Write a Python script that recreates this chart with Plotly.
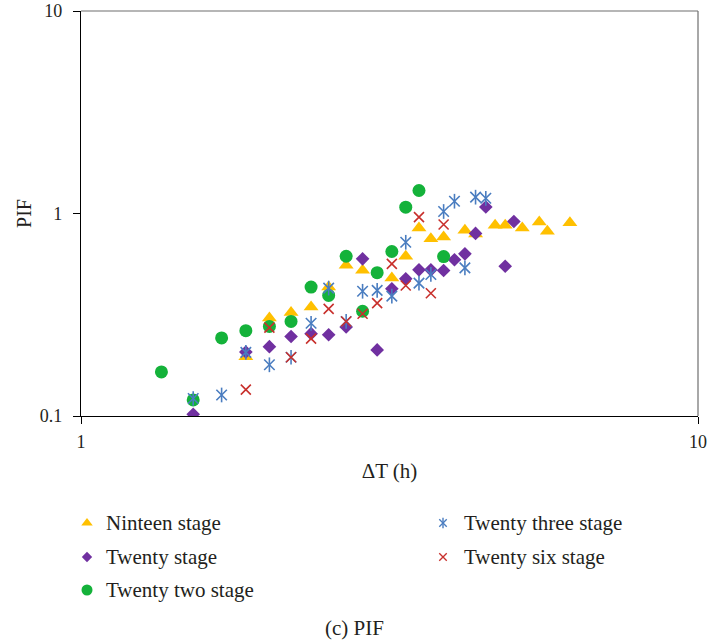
import plotly.graph_objects as go

# ---- data: ΔT (h) vs PIF for each stage ----
nineteen_dt = [1.85, 2.02, 2.19, 2.36, 2.52, 2.69, 2.86, 3.19, 3.36, 3.53,
               3.69, 3.87, 4.19, 4.36, 4.69, 4.87, 5.19, 5.53, 5.70, 6.20]
nineteen_pif = [0.196, 0.305, 0.324, 0.345, 0.434, 0.555, 0.524, 0.480, 0.615, 0.848,
                0.751, 0.765, 0.826, 0.792, 0.874, 0.874, 0.848, 0.908, 0.817, 0.901]

twenty_dt = [1.52, 1.85, 2.02, 2.19, 2.36, 2.52, 2.69, 2.86, 3.02, 3.19,
             3.36, 3.53, 3.69, 3.87, 4.03, 4.19, 4.36, 4.53, 4.87, 5.03]
twenty_pif = [0.102, 0.207, 0.220, 0.247, 0.255, 0.252, 0.275, 0.597, 0.212, 0.425,
              0.476, 0.527, 0.527, 0.523, 0.591, 0.632, 0.797, 1.077, 0.549, 0.913]

twenty_two_dt = [1.35, 1.52, 1.69, 1.85, 2.02, 2.19, 2.36, 2.52, 2.69, 2.86,
                 3.02, 3.19, 3.36, 3.53, 3.87]
twenty_two_pif = [0.165, 0.120, 0.243, 0.264, 0.277, 0.293, 0.433, 0.394, 0.615, 0.329,
                  0.510, 0.649, 1.074, 1.299, 0.613]

twenty_three_dt = [1.52, 1.69, 1.85, 2.02, 2.19, 2.36, 2.52, 2.69, 2.86, 3.02,
                   3.19, 3.36, 3.53, 3.69, 3.87, 4.03, 4.19, 4.36, 4.53]
twenty_three_pif = [0.122, 0.127, 0.206, 0.179, 0.195, 0.287, 0.428, 0.293, 0.413, 0.417,
                    0.391, 0.721, 0.453, 0.500, 1.023, 1.150, 0.539, 1.204, 1.189]

twenty_six_dt = [1.85, 2.02, 2.19, 2.36, 2.52, 2.69, 2.86, 3.02, 3.19, 3.36,
                 3.53, 3.69, 3.87]
twenty_six_pif = [0.135, 0.273, 0.195, 0.241, 0.338, 0.293, 0.320, 0.361, 0.564, 0.441,
                  0.959, 0.404, 0.882]

series_names = ["Ninteen stage", "Twenty stage", "Twenty two stage",
                "Twenty three stage", "Twenty six stage"]

x_ticks = [1, 10]
y_ticks = [0.1, 1, 10]

# ---- styling ----
FONT = "Liberation Serif"
TEXT = "#231F20"
YELLOW = "#FFC000"
PURPLE = "#7030A0"
GREEN = "#14B23A"
BLUE = "#4A7DC0"
RED = "#C8302C"

W, H = 708, 642
# plot box in page pixels
BOX_L, BOX_R, BOX_T, BOX_B = 81, 698, 11, 416

fig = go.Figure()

fig.add_trace(go.Scatter(
    x=nineteen_dt, y=nineteen_pif, mode="markers", name=series_names[0],
    marker=dict(symbol="triangle-up", size=13, color=YELLOW, line=dict(width=0))))
fig.add_trace(go.Scatter(
    x=twenty_dt, y=twenty_pif, mode="markers", name=series_names[1],
    marker=dict(symbol="diamond", size=10.5, color=PURPLE, line=dict(width=0))))
fig.add_trace(go.Scatter(
    x=twenty_two_dt, y=twenty_two_pif, mode="markers", name=series_names[2],
    marker=dict(symbol="circle", size=13, color=GREEN, line=dict(width=0))))
# six-spoke asterisk = thin X + vertical stroke
for sym in ("x-thin-open", "line-ns-open"):
    fig.add_trace(go.Scatter(
        x=twenty_three_dt, y=twenty_three_pif, mode="markers", name=series_names[3],
        marker=dict(symbol=sym, size=10.5, color=BLUE, line=dict(width=1.6, color=BLUE))))
fig.add_trace(go.Scatter(
    x=twenty_six_dt, y=twenty_six_pif, mode="markers", name=series_names[4],
    marker=dict(symbol="x-thin-open", size=10, color=RED, line=dict(width=1.6, color=RED))))

# ---- legend drawn on a full-page helper subplot measured in pixels ----
legend_marker_x = [87, 87, 87, 443, 443]
legend_row_y = [523, 557, 590, 523, 557]
legend_text_x = [104, 104, 104, 462, 462]
legend_styles = [
    [dict(symbol="triangle-up", size=10, color=YELLOW)],
    [dict(symbol="diamond", size=8, color=PURPLE)],
    [dict(symbol="circle", size=11, color=GREEN)],
    [dict(symbol="x-thin-open", size=7.5, color=BLUE, line=dict(width=1.4, color=BLUE)),
     dict(symbol="line-ns-open", size=7.5, color=BLUE, line=dict(width=1.4, color=BLUE))],
    [dict(symbol="x-thin-open", size=7.5, color=RED, line=dict(width=1.4, color=RED))],
]
for mx, my, styles in zip(legend_marker_x, legend_row_y, legend_styles):
    for st in styles:
        fig.add_trace(go.Scatter(
            x=[mx], y=[my], mode="markers", marker=st, xaxis="x2", yaxis="y2",
            hoverinfo="skip"))

label_font = dict(family=FONT, size=21, color=TEXT)
annotations = []
for tx, ty, name in zip(legend_text_x, legend_row_y, series_names):
    annotations.append(dict(
        x=tx / W, y=1 - ty / H, xref="paper", yref="paper", text=name, showarrow=False,
        xanchor="left", yanchor="middle", font=label_font))
annotations.append(dict(
    x=0.5, y=1 - 628 / H, xref="paper", yref="paper", text="(c) PIF", showarrow=False,
    xanchor="center", yanchor="middle", font=label_font))

fig.update_layout(
    width=W, height=H,
    margin=dict(l=0, r=0, t=0, b=0, pad=0),
    paper_bgcolor="white", plot_bgcolor="rgba(0,0,0,0)",
    font=dict(family=FONT, color=TEXT),
    showlegend=False,
    xaxis=dict(
        domain=[BOX_L / W, BOX_R / W], anchor="y",
        type="log", range=[0, 1], tickvals=x_ticks, ticktext=[str(v) for v in x_ticks],
        ticks="outside", ticklen=7, tickwidth=1.3, tickcolor="#000",
        showline=True, linecolor="#000", linewidth=1.3, showgrid=False, zeroline=False,
        tickfont=dict(family=FONT, size=18, color=TEXT), ticklabelstandoff=2,
        automargin=False,
        title=dict(text="ΔT (h)", font=dict(family=FONT, size=21, color=TEXT), standoff=12),
    ),
    yaxis=dict(
        domain=[1 - BOX_B / H, 1 - BOX_T / H], anchor="x",
        type="log", range=[-1, 1], tickvals=y_ticks, ticktext=["0.1", "1", "10"],
        ticks="outside", ticklen=7, tickwidth=1.3, tickcolor="#000",
        showline=True, linecolor="#000", linewidth=1.3, showgrid=False, zeroline=False,
        tickfont=dict(family=FONT, size=18, color=TEXT), ticklabelstandoff=7,
        automargin=False,
        title=dict(text="PIF", font=dict(family=FONT, size=20, color=TEXT), standoff=2),
    ),
    xaxis2=dict(domain=[0, 1], anchor="y2", range=[0, W], visible=False, fixedrange=True),
    yaxis2=dict(domain=[0, 1], anchor="x2", range=[H, 0], visible=False, fixedrange=True),
    annotations=annotations,
    shapes=[
        dict(type="line", xref="x domain", yref="y domain", x0=0, x1=1, y0=1, y1=1,
             line=dict(color="#6E6E6E", width=1.2)),
        dict(type="line", xref="x domain", yref="y domain", x0=1, x1=1, y0=0, y1=1,
             line=dict(color="#6E6E6E", width=1.2)),
    ],
)

fig.write_html("out.html")
